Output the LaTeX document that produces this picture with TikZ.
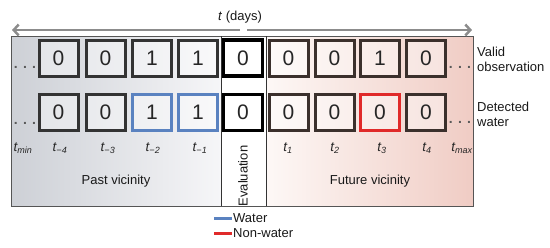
\documentclass[tikz,border=0pt]{standalone}
\usepackage{fontspec}
\setmainfont{Liberation Sans}
\usetikzlibrary{arrows.meta}
\definecolor{pastL}{HTML}{CDD0D6}
\definecolor{pastR}{HTML}{F6F6F8}
\definecolor{futL}{HTML}{FDF8F6}
\definecolor{futR}{HTML}{F0CCC4}
\definecolor{boxgray}{HTML}{333333}
\definecolor{boxbrown}{HTML}{3B302C}
\definecolor{waterblue}{HTML}{5A82C0}
\definecolor{nonred}{HTML}{E02A2A}
\definecolor{arrowgray}{HTML}{8C8C8C}
\definecolor{framegray}{HTML}{555555}
\tikzset{
  cell/.style={draw=boxgray, line width=3pt, minimum width=39pt, minimum height=36pt,
    inner sep=0pt, fill=white, fill opacity=0.4, text opacity=1, text=black!85,
    font=\fontsize{21}{21}\selectfont},
  fcell/.style={cell, draw=boxbrown},
  wcell/.style={cell, draw=waterblue, line width=2.2pt},
  ncell/.style={cell, draw=nonred, line width=2.6pt},
  ecell/.style={cell, draw=black, line width=3.5pt, fill opacity=1},
  tlab/.style={font=\fontsize{13.5}{13.5}\selectfont\itshape, inner sep=0pt, text=black!85},
  lab/.style={font=\fontsize{13}{15.5}\selectfont, inner sep=0pt, align=left, text=black!90},
  dots/.style={font=\fontsize{14}{14}\selectfont\bfseries, inner sep=0pt, text=black!65},
  timearrow/.style={draw=arrowgray, line width=2.5pt, -{Straight Barb[length=5pt,width=11pt]}},
}
\newcommand{\tsub}[1]{\textit{t}\textsubscript{\fontsize{9}{9}\selectfont\itshape #1}}
\begin{document}
\begin{tikzpicture}[x=1pt,y=-1pt]
\useasboundingbox (0,0) rectangle (550,247);
% backgrounds
\shade[left color=pastL, right color=pastR] (11,36) rectangle (221,206);
\fill[white] (221,36) rectangle (266,206);
\shade[left color=futL, right color=futR] (266,36) rectangle (473,206);
\draw[framegray, line width=1pt] (11,36) rectangle (473,206);
\draw[boxgray, line width=0.8pt] (221,36) -- (221,206);
\draw[boxgray, line width=0.8pt] (266,36) -- (266,206);
% time arrows
\coordinate (al) at (240,30);
\coordinate (ar) at (247,30);
\coordinate (aleft) at (12,30);
\coordinate (aright) at (472,30);
\draw[timearrow] (al) -- (aleft);
\draw[timearrow] (ar) -- (aright);
\node[lab, anchor=center] (tdays) at (240,17) {\textit{t} (days)};
% row 1: valid observation
\node[cell] (v4) at (58.5,58) {0};
\node[cell] (v3) at (105.5,58) {0};
\node[cell] (v2) at (152,58) {1};
\node[cell] (v1) at (198,58) {1};
\node[ecell] (v0) at (243,58) {0};
\node[fcell] (vf1) at (288.5,58) {0};
\node[fcell] (vf2) at (334.5,58) {0};
\node[fcell] (vf3) at (380,58) {1};
\node[fcell] (vf4) at (426,58) {0};
% row 2: detected water
\node[cell] (d4) at (58.5,112.5) {0};
\node[cell] (d3) at (105.5,112.5) {0};
\node[wcell] (d2) at (152,112.5) {1};
\node[wcell] (d1) at (198,112.5) {1};
\node[ecell] (d0) at (243,112.5) {0};
\node[fcell] (df1) at (288.5,112.5) {0};
\node[fcell] (df2) at (334.5,112.5) {0};
\node[ncell] (df3) at (380,112.5) {0};
\node[fcell] (df4) at (426,112.5) {0};
% ellipses
\node[dots] (e1) at (25,67) {. . .};
\node[dots] (e2) at (25,123) {. . .};
\node[dots] (e3) at (460,67) {. . .};
\node[dots] (e4) at (460,122) {. . .};
% time labels
\node[tlab] (tmin) at (23,148) {\tsub{min}};
\node[tlab] (tm4) at (60,148) {\tsub{−4}};
\node[tlab] (tm3) at (108,148) {\tsub{−3}};
\node[tlab] (tm2) at (153,148) {\tsub{−2}};
\node[tlab] (tm1) at (200,148) {\tsub{−1}};
\node[tlab] (tp1) at (288,148) {\tsub{1}};
\node[tlab] (tp2) at (335,148) {\tsub{2}};
\node[tlab] (tp3) at (382,148) {\tsub{3}};
\node[tlab] (tp4) at (427,148) {\tsub{4}};
\node[tlab] (tmax) at (462,148) {\tsub{max}};
% region labels
\node[lab] (past) at (116,181) {Past vicinity};
\node[lab] (future) at (370,181) {Future vicinity};
\node[lab, rotate=90] (eval) at (243,176) {Evaluation};
% right labels
\node[lab, anchor=west] (valid) at (477,59.5) {Valid\\observation};
\node[lab, anchor=west] (detw) at (477,114.5) {Detected\\water};
% legend
\coordinate (lw1) at (214,218);
\coordinate (lw2) at (232,218);
\coordinate (ln1) at (214,233);
\coordinate (ln2) at (232,233);
\draw[waterblue, line width=3pt] (lw1) -- (lw2);
\draw[nonred, line width=3pt] (ln1) -- (ln2);
\node[lab, anchor=west] (lwater) at (233,218) {Water};
\node[lab, anchor=west] (lnon) at (233,233) {Non-water};
\end{tikzpicture}
\end{document}
